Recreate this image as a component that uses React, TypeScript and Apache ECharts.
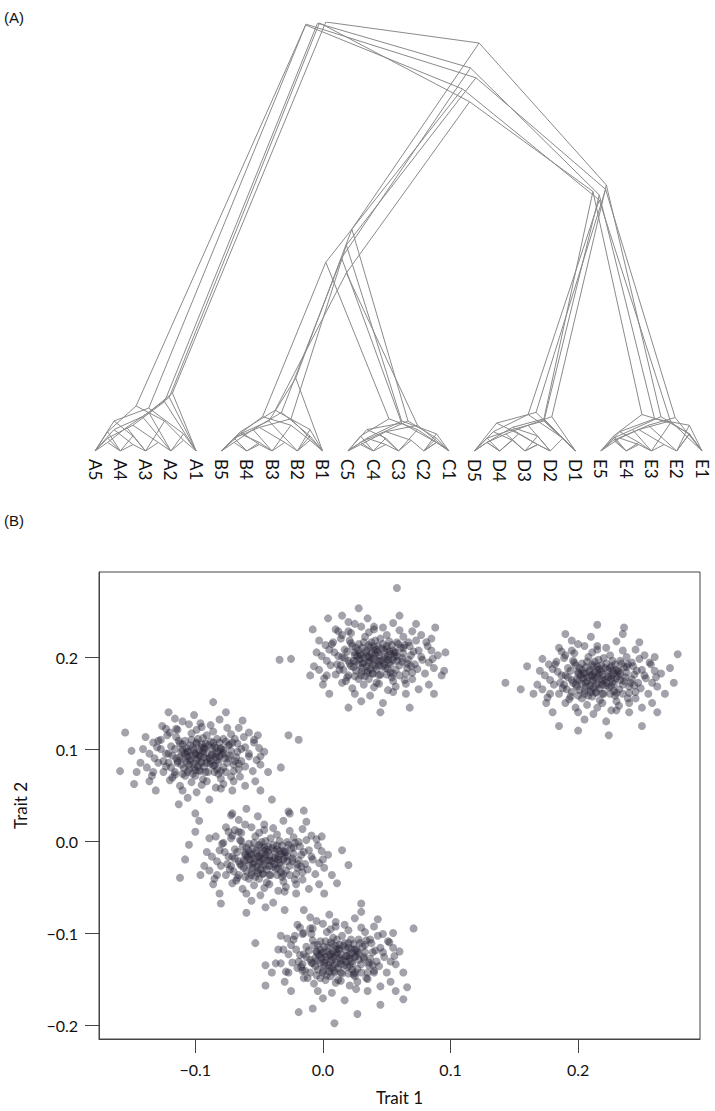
import React, { useEffect, useRef } from 'react';
import * as echarts from 'echarts';

// ---------- Panel (A): overlaid dendrograms ----------
const leafLabels = ['A5','A4','A3','A2','A1','B5','B4','B3','B2','B1','C5','C4','C3','C2','C1','D5','D4','D3','D2','D1','E5','E4','E3','E2','E1'];

// heights of the deep splits, one per tree
const rootHeights = [1.0, 0.997, 0.993, 0.998, 0.995];
const bcdeHeights = [0.951, 0.893, 0.844, 0.814, 0.87];
const bcHeights = [0.517, 0.45, 0.44, 0.415, 0.48];
const deHeights = [0.62, 0.597, 0.585, 0.605, 0.61];

// within-clade subtrees: [height, left, right], leaves are leaf indices
const cladeA: any[] = [
  [0.135, [0.09, [0.055, [0.02, 0, 1], 2], 3], 4],
  [0.115, [0.06, [0.03, 0, 1], [0.02, 2, 3]], 4],
  [0.10, [0.07, 0, [0.035, 1, 2]], [0.04, 3, 4]],
  [0.125, [0.08, [0.05, 0, [0.015, 1, 2]], 3], 4],
  [0.105, [0.045, 0, 1], [0.07, 2, [0.025, 3, 4]]],
];
const cladeB: any[] = [
  [0.17, [0.07, [0.04, 5, [0.02, 6, 7]], 8], 9],
  [0.09, [0.05, [0.02, 5, 6], 7], [0.035, 8, 9]],
  [0.08, [0.03, 5, 6], [0.06, 7, [0.025, 8, 9]]],
  [0.095, [0.045, 5, [0.015, 6, 7]], [0.05, 8, 9]],
  [0.075, [0.055, [0.03, 5, 6], [0.02, 7, 8]], 9],
];
const cladeC: any[] = [
  [0.07, [0.04, [0.02, 10, 11], 12], [0.03, 13, 14]],
  [0.065, [0.05, 10, [0.03, 11, 12]], [0.02, 13, 14]],
  [0.075, [0.035, 10, 11], [0.05, 12, [0.02, 13, 14]]],
  [0.06, [0.045, [0.015, 10, 11], [0.025, 12, 13]], 14],
  [0.07, [0.03, 10, [0.015, 11, 12]], [0.04, 13, 14]],
];
const cladeD: any[] = [
  [0.08, [0.06, [0.04, [0.02, 15, 16], 17], 18], 19],
  [0.07, [0.05, [0.03, 15, 16], [0.015, 17, 18]], 19],
  [0.085, [0.045, 15, [0.025, 16, 17]], [0.03, 18, 19]],
  [0.075, [0.055, [0.02, 15, 16], [0.035, 17, 18]], 19],
  [0.09, [0.065, 15, [0.04, 16, [0.015, 17, 18]]], 19],
];
const cladeE: any[] = [
  [0.08, [0.05, [0.03, 20, 21], 22], [0.04, 23, 24]],
  [0.075, [0.045, 20, [0.02, 21, 22]], [0.06, 23, 24]],
  [0.07, [0.05, [0.025, 20, 21], [0.015, 22, 23]], 24],
  [0.085, [0.035, 20, 21], [0.065, 22, [0.04, 23, 24]]],
  [0.078, [0.06, [0.03, 20, [0.015, 21, 22]], 23], 24],
];

// ---------- Panel (B): trait scatter ----------
const pointsA = [
[0.215,0.178],[0.205,0.182],[0.222,0.172],[0.231,0.185],[0.198,0.170],[0.210,0.165],[0.226,0.190],[0.219,0.160],[0.201,0.188],[0.236,0.174],
[0.213,0.195],[0.190,0.180],[0.240,0.168],[0.228,0.163],[0.207,0.174],[0.218,0.184],[0.195,0.162],[0.233,0.196],[0.211,0.157],[0.244,0.181],
[0.186,0.172],[0.224,0.178],[0.203,0.193],[0.216,0.170],[0.229,0.158],[0.192,0.188],[0.238,0.189],[0.209,0.186],[0.220,0.199],[0.199,0.176],
[0.247,0.172],[0.184,0.184],[0.214,0.162],[0.226,0.168],[0.205,0.160],[0.235,0.160],[0.196,0.196],[0.221,0.188],[0.242,0.194],[0.208,0.200],
[0.188,0.166],[0.230,0.177],[0.217,0.153],[0.200,0.182],[0.250,0.186],[0.212,0.190],[0.193,0.154],[0.239,0.155],[0.225,0.202],[0.182,0.192],
[0.218,0.176],[0.206,0.168],[0.233,0.182],[0.197,0.204],[0.245,0.162],[0.211,0.180],[0.227,0.185],[0.203,0.155],[0.253,0.177],[0.189,0.199],
[0.178,0.160],[0.257,0.192],[0.170,0.185],[0.262,0.168],[0.200,0.140],[0.230,0.142],[0.215,0.212],[0.245,0.208],[0.185,0.210],[0.258,0.150],
[0.175,0.150],[0.265,0.182],[0.212,0.138],[0.240,0.140],[0.195,0.218],[0.230,0.217],[0.168,0.170],[0.268,0.160],[0.180,0.140],[0.250,0.145],
[0.205,0.132],[0.222,0.130],[0.172,0.198],[0.260,0.200],[0.235,0.225],[0.190,0.225],[0.262,0.140],[0.165,0.160],[0.248,0.216],[0.210,0.222],
[0.143,0.172],[0.155,0.165],[0.278,0.203],[0.272,0.188],[0.224,0.115],[0.200,0.120],[0.185,0.125],[0.215,0.235],[0.250,0.125],[0.160,0.190],[0.275,0.172],[0.236,0.232],
[0.212,0.175],[0.219,0.181],[0.204,0.177],[0.227,0.173],[0.209,0.169],[0.223,0.186],[0.200,0.184],[0.231,0.179],[0.215,0.190],[0.217,0.166],
[0.196,0.172],[0.235,0.170],[0.206,0.189],[0.225,0.160],[0.213,0.183],[0.229,0.192],[0.201,0.164],[0.238,0.183],[0.208,0.158],[0.221,0.175],
[0.192,0.178],[0.242,0.176],[0.216,0.197],[0.203,0.171],[0.232,0.165],[0.210,0.180],[0.226,0.180],[0.198,0.191],[0.236,0.189],[0.214,0.161],
[0.189,0.170],[0.244,0.169],[0.207,0.195],[0.222,0.193],[0.219,0.170],[0.202,0.180],[0.230,0.186],[0.211,0.173],[0.224,0.167],[0.194,0.185],
[0.240,0.161],[0.215,0.186],[0.205,0.163],[0.233,0.175],[0.199,0.168],[0.227,0.196],[0.212,0.166],[0.218,0.191],[0.187,0.180],[0.246,0.185],
[0.209,0.184],[0.228,0.171],[0.203,0.186],[0.220,0.160],[0.237,0.178],[0.195,0.175],[0.213,0.178],[0.225,0.188],[0.207,0.178],[0.234,0.193],
[0.200,0.158],[0.241,0.172],[0.216,0.182],[0.222,0.169],[0.197,0.194],[0.230,0.161],[0.211,0.192],[0.219,0.174],[0.206,0.172],[0.228,0.182],
[0.214,0.170],[0.191,0.165],[0.239,0.192],[0.204,0.182],[0.226,0.176],[0.217,0.187],[0.210,0.162],[0.232,0.184],[0.201,0.175],[0.223,0.179],
[0.178,0.175],[0.252,0.180],[0.183,0.195],[0.248,0.198],[0.190,0.150],[0.240,0.150],[0.215,0.145],[0.215,0.208],[0.172,0.165],[0.258,0.172],
[0.195,0.207],[0.235,0.207],[0.198,0.145],[0.232,0.147],[0.180,0.187],[0.255,0.160],[0.176,0.156],[0.252,0.202],[0.205,0.212],[0.226,0.142],
[0.185,0.160],[0.245,0.155],[0.190,0.202],[0.243,0.190],[0.207,0.148],[0.222,0.210],[0.174,0.180],[0.260,0.185],[0.194,0.157],[0.238,0.200],
[0.181,0.170],[0.249,0.166],[0.200,0.214],[0.230,0.152],[0.187,0.206],[0.256,0.194],[0.211,0.205],[0.219,0.150],[0.177,0.192],[0.261,0.178],
];
const pointsE = [
[0.040,0.198],[0.030,0.202],[0.048,0.192],[0.056,0.205],[0.022,0.190],[0.035,0.185],[0.050,0.212],[0.044,0.180],[0.026,0.210],[0.062,0.195],
[0.038,0.216],[0.015,0.200],[0.066,0.188],[0.053,0.183],[0.032,0.194],[0.043,0.205],[0.020,0.180],[0.058,0.216],[0.036,0.176],[0.069,0.202],
[0.011,0.192],[0.049,0.198],[0.028,0.214],[0.041,0.190],[0.054,0.178],[0.017,0.208],[0.063,0.210],[0.034,0.207],[0.045,0.220],[0.024,0.196],
[0.072,0.192],[0.009,0.205],[0.039,0.182],[0.051,0.187],[0.030,0.180],[0.060,0.180],[0.021,0.218],[0.046,0.209],[0.067,0.216],[0.033,0.222],
[0.013,0.186],[0.055,0.197],[0.042,0.172],[0.025,0.202],[0.075,0.207],[0.037,0.211],[0.018,0.174],[0.064,0.175],[0.050,0.224],[0.007,0.214],
[0.043,0.196],[0.031,0.188],[0.058,0.201],[0.022,0.226],[0.070,0.183],[0.036,0.200],[0.052,0.206],[0.028,0.176],[0.078,0.197],[0.014,0.220],
[0.003,0.180],[0.082,0.212],[-0.005,0.205],[0.087,0.188],[0.025,0.160],[0.055,0.162],[0.040,0.233],[0.070,0.228],[0.010,0.230],[0.083,0.170],
[0.000,0.170],[0.090,0.202],[0.037,0.158],[0.065,0.160],[0.020,0.238],[0.055,0.237],[-0.007,0.190],[0.093,0.180],[0.005,0.160],[0.075,0.165],
[0.030,0.152],[0.047,0.150],[-0.003,0.218],[0.085,0.220],[0.060,0.245],[0.015,0.245],[0.087,0.160],[-0.010,0.180],[0.073,0.236],[0.035,0.242],
[-0.034,0.197],[-0.025,0.198],[0.096,0.205],[0.088,0.232],[0.058,0.275],[0.045,0.140],[0.020,0.145],[0.068,0.145],[-0.008,0.230],[0.028,0.253],[0.095,0.185],[0.004,0.242],
[0.037,0.196],[0.044,0.202],[0.029,0.198],[0.052,0.194],[0.034,0.190],[0.048,0.207],[0.025,0.205],[0.056,0.200],[0.040,0.211],[0.042,0.187],
[0.021,0.193],[0.060,0.191],[0.031,0.210],[0.050,0.181],[0.038,0.204],[0.054,0.213],[0.026,0.185],[0.063,0.204],[0.033,0.179],[0.046,0.196],
[0.017,0.199],[0.067,0.197],[0.041,0.218],[0.028,0.192],[0.057,0.186],[0.035,0.201],[0.051,0.201],[0.023,0.212],[0.061,0.210],[0.039,0.182],
[0.014,0.191],[0.069,0.190],[0.032,0.216],[0.047,0.214],[0.044,0.191],[0.027,0.201],[0.055,0.207],[0.036,0.194],[0.049,0.188],[0.019,0.206],
[0.065,0.182],[0.040,0.207],[0.030,0.184],[0.058,0.196],[0.024,0.189],[0.052,0.217],[0.037,0.187],[0.043,0.212],[0.012,0.201],[0.071,0.206],
[0.034,0.205],[0.053,0.192],[0.028,0.207],[0.045,0.181],[0.062,0.199],[0.020,0.196],[0.038,0.199],[0.050,0.209],[0.032,0.199],[0.059,0.214],
[0.025,0.179],[0.066,0.193],[0.041,0.203],[0.047,0.190],[0.022,0.215],[0.055,0.182],[0.036,0.213],[0.044,0.195],[0.031,0.193],[0.053,0.203],
[0.039,0.191],[0.016,0.186],[0.064,0.213],[0.029,0.203],[0.051,0.197],[0.042,0.208],[0.035,0.183],[0.057,0.205],[0.026,0.196],[0.048,0.200],
[0.003,0.196],[0.077,0.200],[0.008,0.216],[0.073,0.218],[0.015,0.172],[0.065,0.171],[0.040,0.167],[0.040,0.230],[-0.003,0.186],[0.083,0.194],
[0.020,0.228],[0.060,0.229],[0.023,0.166],[0.057,0.168],[0.005,0.208],[0.080,0.182],[0.001,0.177],[0.077,0.224],[0.030,0.233],[0.051,0.164],
[0.010,0.181],[0.070,0.176],[0.015,0.224],[0.068,0.212],[0.032,0.170],[0.047,0.232],[-0.001,0.201],[0.085,0.207],[0.019,0.178],[0.063,0.222],
[0.006,0.191],[0.074,0.187],[0.025,0.236],[0.055,0.174],[0.012,0.228],[0.081,0.216],[0.036,0.227],[0.044,0.171],[0.002,0.213],[0.086,0.198],
];
const pointsD = [
[-0.096,0.093],[-0.106,0.097],[-0.088,0.087],[-0.080,0.100],[-0.114,0.085],[-0.101,0.080],[-0.086,0.107],[-0.092,0.075],[-0.110,0.105],[-0.074,0.090],
[-0.098,0.111],[-0.121,0.095],[-0.070,0.083],[-0.083,0.078],[-0.104,0.089],[-0.093,0.100],[-0.116,0.075],[-0.078,0.111],[-0.100,0.071],[-0.067,0.097],
[-0.125,0.087],[-0.087,0.093],[-0.108,0.109],[-0.095,0.085],[-0.082,0.073],[-0.119,0.103],[-0.073,0.105],[-0.102,0.102],[-0.091,0.115],[-0.112,0.091],
[-0.064,0.087],[-0.127,0.100],[-0.097,0.077],[-0.085,0.082],[-0.106,0.075],[-0.076,0.075],[-0.115,0.113],[-0.090,0.104],[-0.069,0.111],[-0.103,0.117],
[-0.123,0.081],[-0.081,0.092],[-0.094,0.067],[-0.111,0.097],[-0.061,0.102],[-0.099,0.106],[-0.118,0.069],[-0.072,0.070],[-0.086,0.119],[-0.129,0.109],
[-0.093,0.091],[-0.105,0.083],[-0.078,0.096],[-0.114,0.121],[-0.066,0.078],[-0.100,0.095],[-0.084,0.101],[-0.108,0.071],[-0.058,0.092],[-0.122,0.115],
[-0.133,0.075],[-0.054,0.107],[-0.141,0.100],[-0.049,0.083],[-0.110,0.055],[-0.080,0.057],[-0.096,0.128],[-0.066,0.123],[-0.126,0.125],[-0.053,0.065],
[-0.136,0.065],[-0.046,0.097],[-0.099,0.053],[-0.071,0.055],[-0.116,0.133],[-0.081,0.132],[-0.143,0.085],[-0.043,0.075],[-0.131,0.055],[-0.061,0.060],
[-0.106,0.047],[-0.089,0.045],[-0.139,0.113],[-0.051,0.115],[-0.076,0.140],[-0.121,0.140],[-0.049,0.055],[-0.146,0.075],[-0.063,0.131],[-0.101,0.137],
[-0.159,0.076],[-0.150,0.098],[-0.155,0.118],[-0.148,0.062],[-0.027,0.115],[-0.019,0.110],[-0.033,0.080],[-0.086,0.151],[-0.060,0.035],[-0.072,0.028],
[-0.040,0.045],[-0.113,0.040],[-0.100,0.030],[-0.097,0.022],[-0.069,0.012],
[-0.098,0.090],[-0.091,0.096],[-0.106,0.092],[-0.083,0.088],[-0.101,0.084],[-0.087,0.101],[-0.110,0.099],[-0.079,0.094],[-0.095,0.105],[-0.093,0.081],
[-0.114,0.087],[-0.075,0.085],[-0.104,0.104],[-0.085,0.075],[-0.097,0.098],[-0.081,0.107],[-0.109,0.079],[-0.072,0.098],[-0.102,0.073],[-0.089,0.090],
[-0.118,0.093],[-0.068,0.091],[-0.094,0.112],[-0.107,0.086],[-0.078,0.080],[-0.100,0.095],[-0.084,0.095],[-0.112,0.106],[-0.074,0.104],[-0.096,0.076],
[-0.121,0.085],[-0.066,0.084],[-0.103,0.110],[-0.088,0.108],[-0.091,0.085],[-0.108,0.095],[-0.080,0.101],[-0.099,0.088],[-0.086,0.082],[-0.116,0.100],
[-0.070,0.076],[-0.095,0.101],[-0.105,0.078],[-0.077,0.090],[-0.111,0.083],[-0.083,0.111],[-0.098,0.081],[-0.092,0.106],[-0.123,0.095],[-0.064,0.100],
[-0.101,0.099],[-0.082,0.086],[-0.107,0.101],[-0.090,0.075],[-0.073,0.093],[-0.115,0.090],[-0.097,0.093],[-0.085,0.103],[-0.103,0.093],[-0.076,0.108],
[-0.110,0.073],[-0.069,0.087],[-0.094,0.097],[-0.088,0.084],[-0.113,0.109],[-0.080,0.076],[-0.099,0.107],[-0.091,0.089],[-0.104,0.087],[-0.082,0.097],
[-0.096,0.085],[-0.119,0.080],[-0.071,0.107],[-0.106,0.097],[-0.084,0.091],[-0.093,0.102],[-0.100,0.077],[-0.078,0.099],[-0.109,0.090],[-0.087,0.094],
[-0.132,0.090],[-0.058,0.095],[-0.127,0.110],[-0.062,0.113],[-0.120,0.066],[-0.070,0.065],[-0.095,0.061],[-0.095,0.124],[-0.138,0.080],[-0.052,0.088],
[-0.115,0.122],[-0.075,0.123],[-0.112,0.060],[-0.078,0.062],[-0.130,0.102],[-0.055,0.076],[-0.134,0.071],[-0.058,0.118],[-0.105,0.127],[-0.084,0.058],
[-0.125,0.075],[-0.065,0.070],[-0.120,0.118],[-0.067,0.106],[-0.103,0.064],[-0.088,0.126],[-0.136,0.095],[-0.050,0.101],[-0.116,0.072],[-0.072,0.116],
[-0.129,0.085],[-0.061,0.081],[-0.110,0.130],[-0.080,0.068],[-0.123,0.122],[-0.054,0.110],[-0.099,0.121],[-0.091,0.065],[-0.133,0.107],[-0.049,0.092],
];
const pointsC = [
[-0.046,-0.019],[-0.056,-0.015],[-0.038,-0.025],[-0.030,-0.012],[-0.064,-0.027],[-0.051,-0.032],[-0.036,-0.005],[-0.042,-0.037],[-0.060,-0.007],[-0.024,-0.022],
[-0.048,-0.001],[-0.071,-0.017],[-0.020,-0.029],[-0.033,-0.034],[-0.054,-0.023],[-0.043,-0.012],[-0.066,-0.037],[-0.028,-0.001],[-0.050,-0.041],[-0.017,-0.015],
[-0.075,-0.025],[-0.037,-0.019],[-0.058,-0.003],[-0.045,-0.027],[-0.032,-0.039],[-0.069,-0.009],[-0.023,-0.007],[-0.052,-0.010],[-0.041,0.003],[-0.062,-0.021],
[-0.014,-0.025],[-0.077,-0.012],[-0.047,-0.035],[-0.035,-0.030],[-0.056,-0.037],[-0.026,-0.037],[-0.065,0.001],[-0.040,-0.008],[-0.019,-0.001],[-0.053,0.005],
[-0.073,-0.031],[-0.031,-0.020],[-0.044,-0.045],[-0.061,-0.015],[-0.011,-0.010],[-0.049,-0.006],[-0.068,-0.043],[-0.022,-0.042],[-0.036,0.007],[-0.079,-0.003],
[-0.043,-0.021],[-0.055,-0.029],[-0.028,-0.016],[-0.064,0.009],[-0.016,-0.034],[-0.050,-0.017],[-0.034,-0.011],[-0.058,-0.041],[-0.008,-0.020],[-0.072,0.003],
[-0.083,-0.037],[-0.004,-0.005],[-0.091,-0.012],[0.001,-0.029],[-0.060,-0.057],[-0.030,-0.055],[-0.046,0.018],[-0.016,0.013],[-0.076,0.015],[-0.003,-0.047],
[-0.086,-0.047],[0.004,-0.015],[-0.049,-0.059],[-0.021,-0.057],[-0.066,0.023],[-0.031,0.022],[-0.093,-0.027],[0.007,-0.037],[-0.081,-0.057],[-0.011,-0.052],
[-0.056,-0.065],[-0.039,-0.067],[-0.089,0.003],[-0.001,0.005],[-0.026,0.030],[-0.071,0.030],[0.001,-0.057],[-0.096,-0.037],[-0.013,0.021],[-0.051,0.027],
[-0.112,-0.040],[-0.105,-0.004],[-0.108,-0.020],[-0.100,0.010],[0.020,-0.026],[0.011,-0.046],[0.015,-0.010],[-0.060,-0.078],[-0.045,-0.072],[-0.030,-0.075],
[-0.080,-0.068],[-0.027,0.032],[-0.015,0.033],
[-0.049,-0.022],[-0.042,-0.016],[-0.057,-0.020],[-0.034,-0.024],[-0.052,-0.028],[-0.038,-0.011],[-0.061,-0.013],[-0.030,-0.018],[-0.046,-0.007],[-0.044,-0.031],
[-0.065,-0.025],[-0.026,-0.027],[-0.055,-0.008],[-0.036,-0.037],[-0.048,-0.014],[-0.032,-0.005],[-0.060,-0.033],[-0.023,-0.014],[-0.053,-0.039],[-0.040,-0.022],
[-0.069,-0.019],[-0.019,-0.021],[-0.045,0.000],[-0.058,-0.026],[-0.029,-0.032],[-0.051,-0.017],[-0.035,-0.017],[-0.063,-0.006],[-0.025,-0.008],[-0.047,-0.036],
[-0.072,-0.027],[-0.017,-0.028],[-0.054,-0.002],[-0.039,-0.004],[-0.042,-0.027],[-0.059,-0.017],[-0.031,-0.011],[-0.050,-0.024],[-0.037,-0.030],[-0.067,-0.012],
[-0.021,-0.036],[-0.046,-0.011],[-0.056,-0.034],[-0.028,-0.022],[-0.062,-0.029],[-0.034,0.000],[-0.049,-0.031],[-0.043,-0.006],[-0.074,-0.017],[-0.015,-0.012],
[-0.052,-0.013],[-0.033,-0.026],[-0.058,-0.011],[-0.041,-0.037],[-0.024,-0.019],[-0.066,-0.022],[-0.048,-0.019],[-0.036,-0.009],[-0.054,-0.019],[-0.027,-0.004],
[-0.061,-0.039],[-0.020,-0.025],[-0.045,-0.015],[-0.039,-0.028],[-0.064,0.000],[-0.031,-0.036],[-0.050,-0.004],[-0.042,-0.021],[-0.055,-0.025],[-0.033,-0.014],
[-0.047,-0.026],[-0.070,-0.033],[-0.022,-0.002],[-0.057,-0.014],[-0.035,-0.020],[-0.044,-0.009],[-0.051,-0.035],[-0.029,-0.012],[-0.060,-0.021],[-0.038,-0.018],
[-0.083,-0.022],[-0.009,-0.017],[-0.078,-0.002],[-0.013,0.001],[-0.071,-0.046],[-0.021,-0.047],[-0.046,-0.051],[-0.046,0.012],[-0.089,-0.032],[-0.003,-0.024],
[-0.066,0.010],[-0.026,0.011],[-0.063,-0.052],[-0.029,-0.050],[-0.081,-0.010],[-0.006,-0.036],[-0.085,-0.041],[-0.009,0.006],[-0.056,0.015],[-0.035,-0.054],
[-0.076,-0.037],[-0.016,-0.042],[-0.071,0.006],[-0.018,-0.006],[-0.054,-0.048],[-0.039,0.014],[-0.087,-0.017],[-0.001,-0.011],[-0.067,-0.040],[-0.023,0.004],
[-0.080,-0.027],[-0.012,-0.031],[-0.061,0.018],[-0.031,-0.044],[-0.074,0.010],[-0.005,0.002],[-0.050,0.009],[-0.042,-0.047],[-0.084,0.005],[0.000,-0.020],
];
const pointsB = [
[0.010,-0.125],[0.000,-0.121],[0.018,-0.131],[0.026,-0.118],[-0.008,-0.133],[0.005,-0.138],[0.020,-0.111],[0.014,-0.143],[-0.004,-0.113],[0.032,-0.128],
[0.008,-0.105],[-0.015,-0.123],[0.036,-0.135],[0.023,-0.140],[0.002,-0.129],[0.013,-0.118],[-0.010,-0.143],[0.028,-0.107],[0.006,-0.147],[0.039,-0.121],
[-0.019,-0.131],[0.019,-0.125],[-0.002,-0.109],[0.011,-0.133],[0.024,-0.145],[-0.013,-0.115],[0.033,-0.113],[0.004,-0.116],[0.015,-0.103],[-0.006,-0.127],
[0.042,-0.131],[-0.021,-0.118],[0.009,-0.141],[0.021,-0.136],[0.000,-0.143],[0.030,-0.143],[-0.009,-0.101],[0.016,-0.114],[0.037,-0.107],[0.003,-0.099],
[-0.017,-0.137],[0.025,-0.126],[0.012,-0.151],[-0.005,-0.121],[0.045,-0.116],[0.007,-0.112],[-0.012,-0.149],[0.034,-0.149],[0.020,-0.097],[-0.023,-0.107],
[0.013,-0.127],[0.001,-0.135],[0.028,-0.122],[-0.008,-0.095],[0.040,-0.141],[0.006,-0.123],[0.022,-0.117],[-0.002,-0.149],[0.048,-0.126],[-0.016,-0.101],
[-0.027,-0.143],[0.052,-0.110],[-0.035,-0.118],[0.057,-0.134],[-0.004,-0.163],[0.026,-0.161],[0.010,-0.088],[0.040,-0.093],[-0.020,-0.091],[0.053,-0.153],
[-0.030,-0.153],[0.060,-0.120],[0.007,-0.165],[0.035,-0.163],[-0.010,-0.083],[0.025,-0.084],[-0.037,-0.133],[0.063,-0.143],[-0.025,-0.163],[0.045,-0.158],
[0.000,-0.171],[0.017,-0.173],[-0.033,-0.103],[0.055,-0.100],[0.030,-0.077],[-0.015,-0.075],[0.057,-0.163],[-0.040,-0.143],[0.043,-0.085],[0.005,-0.080],
[-0.053,-0.111],[-0.045,-0.157],[0.071,-0.095],[0.066,-0.159],[0.063,-0.172],[0.009,-0.198],[-0.019,-0.186],[0.027,-0.188],[-0.008,-0.182],[0.045,-0.178],
[-0.045,-0.135],[0.030,-0.068],
[0.007,-0.129],[0.014,-0.123],[-0.001,-0.127],[0.022,-0.131],[0.004,-0.135],[0.018,-0.118],[-0.005,-0.120],[0.026,-0.125],[0.010,-0.114],[0.012,-0.138],
[-0.009,-0.132],[0.030,-0.134],[0.001,-0.115],[0.020,-0.144],[0.008,-0.121],[0.024,-0.112],[-0.004,-0.140],[0.033,-0.121],[0.003,-0.146],[0.016,-0.129],
[-0.013,-0.126],[0.037,-0.128],[0.011,-0.107],[-0.002,-0.133],[0.027,-0.139],[0.005,-0.124],[0.021,-0.124],[-0.007,-0.113],[0.031,-0.115],[0.009,-0.143],
[-0.016,-0.134],[0.039,-0.135],[0.002,-0.109],[0.017,-0.111],[0.014,-0.134],[-0.003,-0.124],[0.025,-0.118],[0.006,-0.131],[0.019,-0.137],[-0.011,-0.119],
[0.035,-0.143],[0.010,-0.118],[0.000,-0.141],[0.028,-0.129],[-0.006,-0.136],[0.022,-0.107],[0.007,-0.138],[0.013,-0.113],[-0.018,-0.124],[0.041,-0.119],
[0.004,-0.120],[0.023,-0.133],[-0.002,-0.118],[0.015,-0.144],[0.032,-0.126],[-0.010,-0.129],[0.008,-0.126],[0.020,-0.116],[0.002,-0.126],[0.029,-0.111],
[-0.005,-0.146],[0.036,-0.132],[0.011,-0.122],[0.017,-0.135],[-0.008,-0.108],[0.025,-0.143],[0.006,-0.110],[0.014,-0.130],[0.001,-0.132],[0.023,-0.122],
[0.009,-0.134],[-0.014,-0.141],[0.034,-0.108],[-0.001,-0.122],[0.021,-0.128],[0.012,-0.117],[0.005,-0.142],[0.027,-0.120],[-0.004,-0.129],[0.018,-0.125],
[-0.027,-0.123],[0.047,-0.121],[-0.022,-0.103],[0.043,-0.103],[-0.015,-0.149],[0.035,-0.150],[0.010,-0.154],[0.010,-0.093],[-0.033,-0.133],[0.053,-0.131],
[-0.010,-0.095],[0.030,-0.094],[-0.007,-0.155],[0.027,-0.153],[-0.025,-0.113],[0.050,-0.143],[-0.029,-0.142],[0.047,-0.101],[0.000,-0.090],[0.021,-0.157],
[-0.020,-0.138],[0.040,-0.143],[-0.015,-0.100],[0.038,-0.111],[0.002,-0.151],[0.017,-0.091],[-0.031,-0.118],[0.055,-0.116],[-0.016,-0.141],[0.033,-0.099],
[-0.024,-0.132],[0.044,-0.136],[-0.005,-0.087],[0.025,-0.147],[-0.018,-0.094],[0.051,-0.109],[0.006,-0.096],[0.014,-0.152],[-0.028,-0.106],[0.056,-0.125],
];

const clusterNames = ['A', 'B', 'C', 'D', 'E'];
const clusterLabelPos = [[0.201, 0.253], [0.055, -0.062], [0.027, 0.009], [-0.128, 0.167], [-0.025, 0.26]];

const xTicks = [-0.1, 0.0, 0.1, 0.2];
const yTicks = [-0.2, -0.1, 0.0, 0.1, 0.2];

const FONT = 'Lato, "Open Sans", sans-serif';

function layoutTree(node: any, edges: number[][][]): number[] {
  if (typeof node === 'number') return [node, 0];
  const [h, l, r] = node;
  const a = layoutTree(l, edges);
  const b = layoutTree(r, edges);
  const x = (a[0] + b[0]) / 2;
  edges.push([[x, h], a], [[x, h], b]);
  return [x, h];
}

const fmt = (v: number) => (v < -1e-9 ? '\u2212' : '') + Math.abs(v).toFixed(1);

export default function App() {
  const ref = useRef<HTMLDivElement>(null);
  useEffect(() => {
    if (!ref.current) return;
    const chart = echarts.init(ref.current, undefined, { renderer: 'svg' });

    const edges: number[][][] = [];
    for (let t = 0; t < rootHeights.length; t++) {
      const tree = [rootHeights[t], cladeA[t],
        [bcdeHeights[t], [bcHeights[t], cladeB[t], cladeC[t]], [deHeights[t], cladeD[t], cladeE[t]]]];
      layoutTree(tree, edges);
    }

    const allPoints = [...pointsA, ...pointsB, ...pointsC, ...pointsD, ...pointsE];

    chart.setOption({
      animation: false,
      backgroundColor: '#ffffff',
      graphic: [
        { type: 'text', left: 4, top: 10, style: { text: '(A)', fontSize: 15, fontFamily: 'Liberation Sans, Arial, sans-serif', fill: '#111' } },
        { type: 'text', left: 4, top: 513, style: { text: '(B)', fontSize: 15, fontFamily: 'Liberation Sans, Arial, sans-serif', fill: '#111' } },
      ],
      grid: [
        { left: 95, right: 13, top: 22, bottom: 660, containLabel: false },
        { left: 99, right: 15, top: 572, bottom: 72, containLabel: false, show: true, borderColor: '#444', borderWidth: 1, backgroundColor: 'transparent' },
      ],
      xAxis: [
        {
          type: 'value', gridIndex: 0, min: 0, max: 24, interval: 1,
          axisLine: { show: false }, axisTick: { show: false }, splitLine: { show: false },
          axisLabel: {
            rotate: -90, margin: 8, fontSize: 17, color: '#111', fontFamily: FONT,
            formatter: (v: number) => leafLabels[Math.round(v)] ?? '',
          },
        },
        {
          type: 'value', gridIndex: 1, min: -0.1755, max: 0.2955,
          axisLine: { show: true, onZero: false, lineStyle: { color: '#444', width: 1 } },
          axisTick: { show: true, length: 14, customValues: xTicks, lineStyle: { color: '#444' } },
          splitLine: { show: false },
          axisLabel: { customValues: xTicks, margin: 22, fontSize: 16, color: '#111', fontFamily: FONT, formatter: fmt },
          name: 'Trait 1', nameLocation: 'middle', nameGap: 50,
          nameTextStyle: { fontSize: 17, color: '#111', fontFamily: FONT },
        },
      ],
      yAxis: [
        { type: 'value', gridIndex: 0, min: 0, max: 1, show: false },
        {
          type: 'value', gridIndex: 1, min: -0.2152, max: 0.2924,
          axisLine: { show: true, onZero: false, lineStyle: { color: '#444', width: 1 } },
          axisTick: { show: true, length: 14, customValues: yTicks, lineStyle: { color: '#444' } },
          splitLine: { show: false },
          axisLabel: { customValues: yTicks, margin: 21, fontSize: 16, color: '#111', fontFamily: FONT, formatter: fmt },
          name: 'Trait 2', nameLocation: 'middle', nameGap: 70, nameRotate: 90,
          nameTextStyle: { fontSize: 17, color: '#111', fontFamily: FONT },
        },
      ],
      series: [
        {
          type: 'lines', coordinateSystem: 'cartesian2d', xAxisIndex: 0, yAxisIndex: 0,
          silent: true,
          lineStyle: { color: '#8a8a8a', width: 1, opacity: 1 },
          data: edges.map((c) => ({ coords: c })),
        },
        {
          type: 'scatter', xAxisIndex: 1, yAxisIndex: 1, silent: true,
          symbolSize: 8,
          itemStyle: { color: '#2a2438', opacity: 0.43 },
          data: allPoints,
        },
        {
          type: 'scatter', xAxisIndex: 1, yAxisIndex: 1, silent: true,
          symbolSize: 1, itemStyle: { opacity: 0 },
          label: {
            show: true, position: 'inside', formatter: (p: any) => p.name,
            fontSize: 17, color: '#111', fontFamily: FONT,
          },
          data: clusterNames.map((n, i) => ({ name: n, value: clusterLabelPos[i] })),
        },
      ],
    });
    return () => chart.dispose();
  }, []);
  return <div ref={ref} style={{ position: 'absolute', left: 0, top: 0, width: 715, height: 1111 }} />;
}
